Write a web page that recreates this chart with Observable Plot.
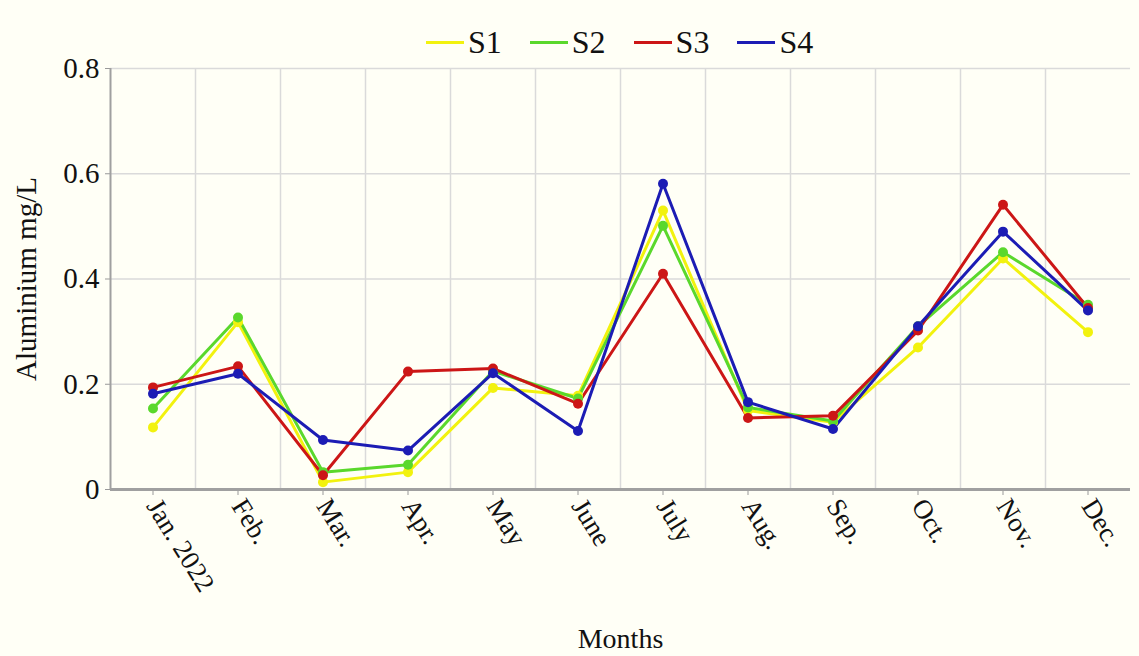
<!DOCTYPE html>
<html><head><meta charset="utf-8">
<script src="https://cdn.jsdelivr.net/npm/d3@7"></script>
<script src="https://cdn.jsdelivr.net/npm/@observablehq/plot@0.6"></script>
<style>
body{margin:0;background:#fffff6;font-family:"Liberation Serif",serif;}
#wrap{position:relative;width:1139px;height:656px;}
#legend{position:absolute;top:22px;left:426px;display:flex;align-items:center;font-size:32px;color:#111;line-height:40px;}
.item{display:flex;align-items:center;margin-right:28px;}
.sw{width:38px;height:3px;margin-right:4px;}
</style></head>
<body><div id="wrap"><div id="legend"></div></div>
<script>
const months = ["Jan. 2022","Feb.","Mar.","Apr.","May","June","July","Aug.","Sep.","Oct.","Nov.","Dec."];
const seriesNames = ["S1","S2","S3","S4"];
const seriesColors = ["#f2f20e","#5ad82c","#cc1616","#1c1cb4"];
const S1 = [0.118,0.318,0.014,0.033,0.193,0.178,0.530,0.150,0.128,0.270,0.439,0.299];
const S2 = [0.154,0.327,0.033,0.047,0.225,0.173,0.501,0.156,0.130,0.310,0.451,0.351];
const S3 = [0.194,0.234,0.027,0.224,0.230,0.163,0.410,0.136,0.140,0.302,0.541,0.345];
const S4 = [0.182,0.220,0.094,0.074,0.221,0.111,0.581,0.166,0.115,0.310,0.490,0.340];
const yTicks = [0,0.2,0.4,0.6,0.8];

const values = [S1,S2,S3,S4];
const data = seriesNames.flatMap((s,k)=>values[k].map((v,i)=>({s,i,v})));

const leg = document.getElementById("legend");
seriesNames.forEach((s,k)=>{
  const it=document.createElement("div");it.className="item";
  const sw=document.createElement("div");sw.className="sw";sw.style.background=seriesColors[k];
  const t=document.createElement("span");t.textContent=s;
  it.append(sw,t);leg.append(it);
});

const xIdx = d3.range(months.length);
const chart = Plot.plot({
  width:1139, height:656, marginTop:68, marginBottom:167, marginLeft:110, marginRight:9,
  style:{background:"transparent", fontFamily:"Liberation Serif, serif", fontSize:"28px", color:"#111"},
  x:{domain:[-0.5, months.length-0.5], axis:null},
  y:{domain:[yTicks[0], yTicks[yTicks.length-1]], axis:null},
  color:{domain:seriesNames, range:seriesColors},
  marks:[
    Plot.ruleY(yTicks.slice(1), {stroke:"#dadada", strokeWidth:1.5}),
    Plot.ruleX(xIdx.slice(0,-1).map(i=>i+0.5), {stroke:"#dadada", strokeWidth:1.5}),
    Plot.axisY({ticks:yTicks, tickFormat:d=>d===0?"0":d.toFixed(1), label:null, tickSize:5, tickPadding:6, stroke:"#999", fill:"#111", fontSize:29}),
    Plot.axisX({ticks:xIdx, tickFormat:i=>months[i], label:null, tickRotate:58, tickSize:6, tickPadding:6, stroke:"#999", fill:"#111", fontSize:27}),
    Plot.ruleX([-0.5], {stroke:"#a0a0a0", strokeWidth:2}),
    Plot.ruleY([0], {stroke:"#a0a0a0", strokeWidth:3}),
    Plot.line(data, {x:"i", y:"v", z:"s", stroke:"s", strokeWidth:3}),
    Plot.dot(data, {x:"i", y:"v", fill:"s", r:5}),
    Plot.text(["Months"], {frameAnchor:"bottom", dy:150, textAnchor:"middle", lineAnchor:"middle", fontSize:28, fill:"#111"}),
    Plot.text(["Aluminium mg/L"], {frameAnchor:"left", dx:-84, rotate:-90, textAnchor:"middle", lineAnchor:"middle", fontSize:29, fill:"#111"})
  ]
});
document.getElementById("wrap").prepend(chart);
</script>
</body></html>
